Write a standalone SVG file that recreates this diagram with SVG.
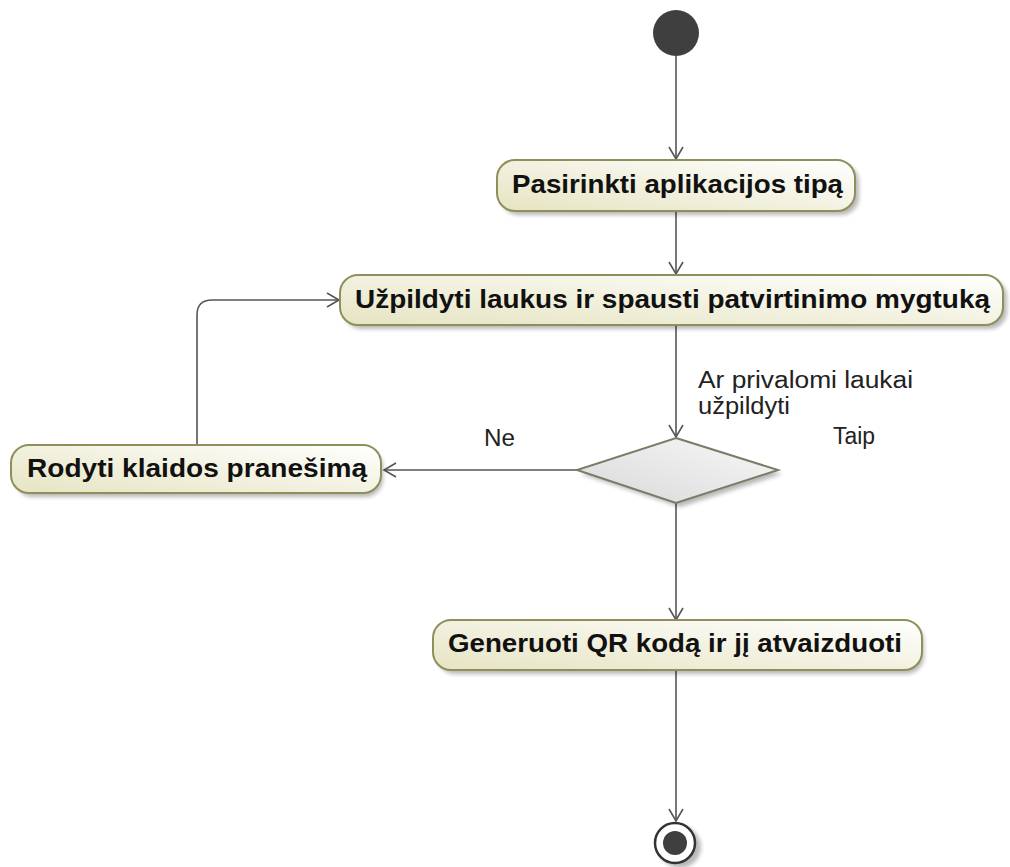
<svg xmlns="http://www.w3.org/2000/svg" width="1010" height="867" viewBox="0 0 1010 867">
  <style>
    .action { fill: url(#actFill); stroke: #8f8f5c; stroke-width: 2; }
    .shadow { fill: #000; opacity: 0.28; filter: url(#soft); }
    .albl { font-family: "Liberation Sans", Arial, sans-serif; font-weight: bold; font-size: 26px; fill: #111; }
    .guard { font-family: "Liberation Sans", Arial, sans-serif; font-size: 23px; fill: #222; }
    .flow { fill: none; stroke: #555; stroke-width: 1.6; marker-end: url(#open); }
  </style>
  <defs>
    <linearGradient id="actFill" x1="0" y1="1" x2="1" y2="0">
      <stop offset="0" stop-color="#e6e4c2"/>
      <stop offset="1" stop-color="#ffffff"/>
    </linearGradient>
    <linearGradient id="decFill" x1="0" y1="1" x2="1" y2="0">
      <stop offset="0" stop-color="#d8d8d8"/>
      <stop offset="1" stop-color="#f8f8f8"/>
    </linearGradient>
    <filter id="soft" x="-10%" y="-30%" width="120%" height="160%">
      <feGaussianBlur stdDeviation="2"/>
    </filter>
    <marker id="open" markerWidth="16" markerHeight="16" refX="13" refY="8" orient="auto" markerUnits="userSpaceOnUse">
      <path d="M1,1 L13,8 L1,15" fill="none" stroke="#555" stroke-width="1.6"/>
    </marker>
  </defs>

  <!-- connectors -->
  <g id="connectors">
    <path class="flow" d="M676,56 L676,159"/>
    <path class="flow" d="M676,211 L676,274"/>
    <path class="flow" d="M676,325 L676,437"/>
    <path class="flow" d="M577,470 L384,470"/>
    <path class="flow" d="M197,446 L197,315 Q197,300 212,300 L339,300"/>
    <path class="flow" d="M676,503 L676,620"/>
    <path class="flow" d="M676,670 L676,821"/>
  </g>

  <!-- initial node -->
  <g id="start">
    <circle cx="676" cy="33" r="23" fill="#3f3f3f"/>
  </g>

  <g id="act-type">
    <rect class="shadow" x="501" y="164" width="358" height="51" rx="18"/>
    <rect class="action" x="497" y="160" width="358" height="51" rx="18"/>
    <text class="albl" x="512" y="193" textLength="331" lengthAdjust="spacingAndGlyphs">Pasirinkti aplikacijos tipą</text>
  </g>

  <g id="act-fill">
    <rect class="shadow" x="344" y="279" width="663" height="50" rx="18"/>
    <rect class="action" x="340" y="275" width="663" height="50" rx="18"/>
    <text class="albl" x="355" y="308" textLength="635" lengthAdjust="spacingAndGlyphs">Užpildyti laukus ir spausti patvirtinimo mygtuką</text>
  </g>

  <g id="act-error">
    <rect class="shadow" x="15" y="449" width="368" height="48" rx="18"/>
    <rect class="action" x="11" y="445" width="370" height="48" rx="18"/>
    <text class="albl" x="27" y="477" textLength="340" lengthAdjust="spacingAndGlyphs">Rodyti klaidos pranešimą</text>
  </g>

  <g id="decision">
    <polygon class="shadow" points="680,442 782,474 680,507 581,474"/>
    <polygon points="676,438 778,470 676,503 577,470" fill="url(#decFill)" stroke="#7b7b66" stroke-width="2"/>
    <text class="guard" x="698" y="388" textLength="215" lengthAdjust="spacingAndGlyphs">Ar privalomi laukai</text>
    <text class="guard" x="698" y="414" textLength="92" lengthAdjust="spacingAndGlyphs">užpildyti</text>
    <text class="guard" x="833" y="444" textLength="42" lengthAdjust="spacingAndGlyphs">Taip</text>
    <text class="guard" x="484" y="446" textLength="31" lengthAdjust="spacingAndGlyphs">Ne</text>
  </g>

  <g id="act-qr">
    <rect class="shadow" x="437" y="624" width="487" height="50" rx="18"/>
    <rect class="action" x="433" y="620" width="489" height="50" rx="18"/>
    <text class="albl" x="448" y="652" textLength="454" lengthAdjust="spacingAndGlyphs">Generuoti QR kodą ir jį atvaizduoti</text>
  </g>

  <!-- final node -->
  <g id="end">
    <circle class="shadow" cx="680" cy="847" r="21"/>
    <circle cx="675" cy="843" r="20" fill="#fff" stroke="#333" stroke-width="2.5"/>
    <circle cx="675" cy="843" r="12" fill="#3f3f3f"/>
  </g>
</svg>
